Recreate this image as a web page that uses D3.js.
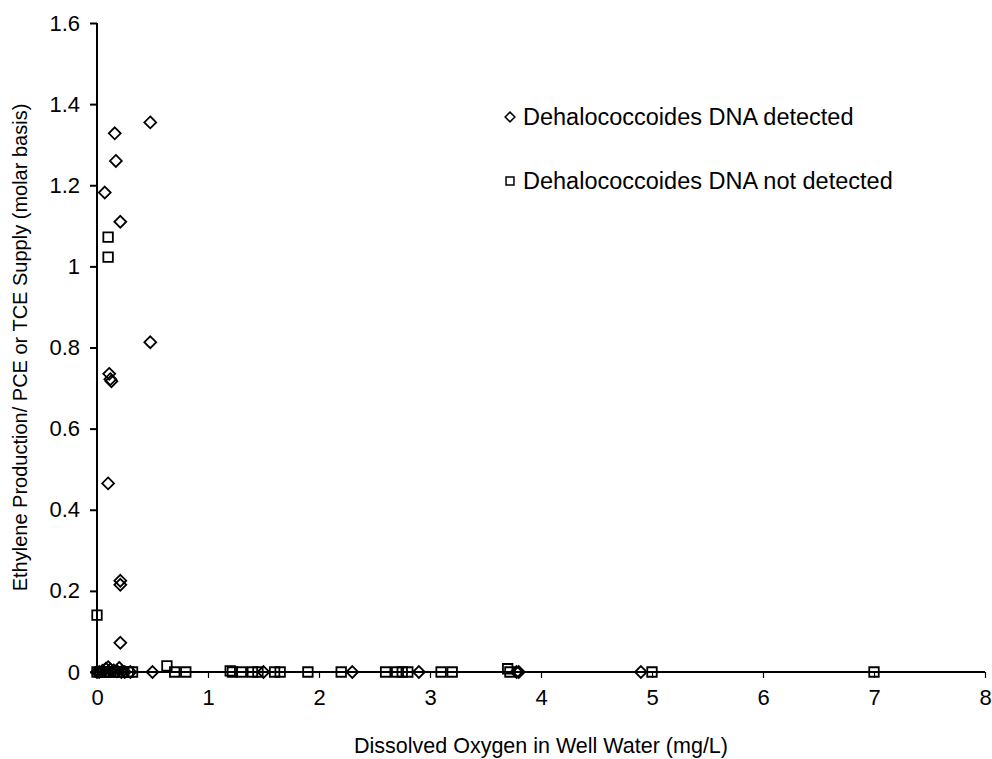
<!DOCTYPE html>
<html>
<head>
<meta charset="utf-8">
<script src="https://cdn.jsdelivr.net/npm/d3@7"></script>
<style>
  body { margin: 0; background: #fff; }
  svg { display: block; font-family: "Liberation Sans", Arial, sans-serif; }
</style>
</head>
<body>
<svg class="vis" width="992" height="759"></svg>
<script>
// dissolved oxygen (mg/L), ratio ethylene / supply
const detected = [
  [0.48, 1.355], [0.16, 1.328], [0.17, 1.26], [0.07, 1.182], [0.21, 1.11],
  [0.48, 0.813], [0.11, 0.735], [0.12, 0.722], [0.13, 0.717], [0.10, 0.465],
  [0.21, 0.225], [0.21, 0.215], [0.21, 0.072],
  [0.0, 0], [0.02, 0], [0.05, 0.003], [0.08, 0.008], [0.10, 0.012], [0.12, 0.006],
  [0.15, 0.004], [0.18, 0.002], [0.20, 0.01], [0.22, 0], [0.25, 0], [0.30, 0],
  [0.50, 0], [1.5, 0], [2.3, 0], [2.9, 0], [3.78, 0], [3.8, 0], [4.9, 0]
];

const notDetected = [
  [0.10, 1.072], [0.10, 1.023], [0.0, 0.14], [0.63, 0.015],
  [0.0, 0], [0.03, 0], [0.06, 0], [0.09, 0], [0.12, 0], [0.15, 0], [0.19, 0],
  [0.24, 0], [0.28, 0], [0.32, 0], [0.70, 0], [0.80, 0],
  [1.2, 0.003], [1.22, 0], [1.3, 0], [1.4, 0], [1.45, 0], [1.6, 0], [1.65, 0],
  [1.9, 0], [2.2, 0], [2.6, 0], [2.7, 0], [2.75, 0], [2.8, 0], [3.1, 0], [3.2, 0],
  [3.7, 0.008], [3.72, 0], [5.0, 0], [7.0, 0]
];

const xTicks = [0, 1, 2, 3, 4, 5, 6, 7, 8];
const yTicks = [0, 0.2, 0.4, 0.6, 0.8, 1, 1.2, 1.4, 1.6];

const legendItems = ["Dehalococcoides DNA detected", "Dehalococcoides DNA not detected"];

const margin = { top: 23, left: 97, right: 7, bottom: 87 };
const W = 992, H = 759;

const svg = d3.select("svg.vis");

const x = d3.scaleLinear().domain([0, 8]).range([margin.left, W - margin.right]);
const y = d3.scaleLinear().domain([0, 1.6]).range([H - margin.bottom, margin.top]);

// y axis
const yAxis = svg.append("g")
  .attr("transform", `translate(${margin.left},0)`)
  .call(d3.axisLeft(y).tickValues(yTicks).tickSize(7).tickPadding(10).tickFormat(d => d3.format("~g")(d)));
yAxis.select(".domain").attr("d", `M0,${y(1.6)}V${y(0)}`).attr("stroke-width", 2);
yAxis.selectAll(".tick line").attr("stroke-width", 2);
yAxis.selectAll("text").attr("font-size", 22).attr("fill", "#000");

// x axis
const xAxis = svg.append("g")
  .attr("transform", `translate(0,${y(0)})`)
  .call(d3.axisBottom(x).tickValues(xTicks).tickSize(6).tickPadding(11));
xAxis.select(".domain").attr("d", `M${x(0)},0H${x(8)}`).attr("stroke-width", 2);
xAxis.selectAll(".tick line").attr("stroke-width", 1.2);
xAxis.selectAll("text").attr("font-size", 22).attr("fill", "#000");

// titles
svg.append("text")
  .attr("x", (x(0) + x(8)) / 2).attr("y", 753)
  .attr("text-anchor", "middle").attr("font-size", 21.5)
  .text("Dissolved Oxygen in Well Water (mg/L)");

svg.append("text")
  .attr("transform", `translate(27,${(y(0) + y(1.6)) / 2}) rotate(-90)`)
  .attr("text-anchor", "middle").attr("font-size", 20)
  .text("Ethylene Production/ PCE or TCE Supply (molar basis)");

const diamond = d3.symbol().type(d3.symbolDiamond2).size(90);
const square = d3.symbol().type(d3.symbolSquare2).size(115);

const pts = svg.append("g").attr("fill", "none").attr("stroke", "#000").attr("stroke-width", 1.8);

pts.selectAll("path.sq")
  .data(notDetected)
  .join("path")
  .attr("class", "sq")
  .attr("d", square)
  .attr("transform", d => `translate(${x(d[0])},${y(d[1])})`);

pts.selectAll("path.dm")
  .data(detected)
  .join("path")
  .attr("class", "dm")
  .attr("d", diamond)
  .attr("transform", d => `translate(${x(d[0])},${y(d[1])})`);

// legend
const legend = svg.append("g").attr("transform", "translate(510,117)");
const shapes = [diamond.size(60), square.size(80)];
legendItems.forEach((t, i) => {
  const g = legend.append("g").attr("transform", `translate(0,${i * 64})`);
  g.append("path").attr("d", shapes[i]())
    .attr("fill", "none").attr("stroke", "#000").attr("stroke-width", 1.5);
  g.append("text").attr("x", 13).attr("y", 8).attr("font-size", 23.5).text(t);
});
</script>
</body>
</html>
